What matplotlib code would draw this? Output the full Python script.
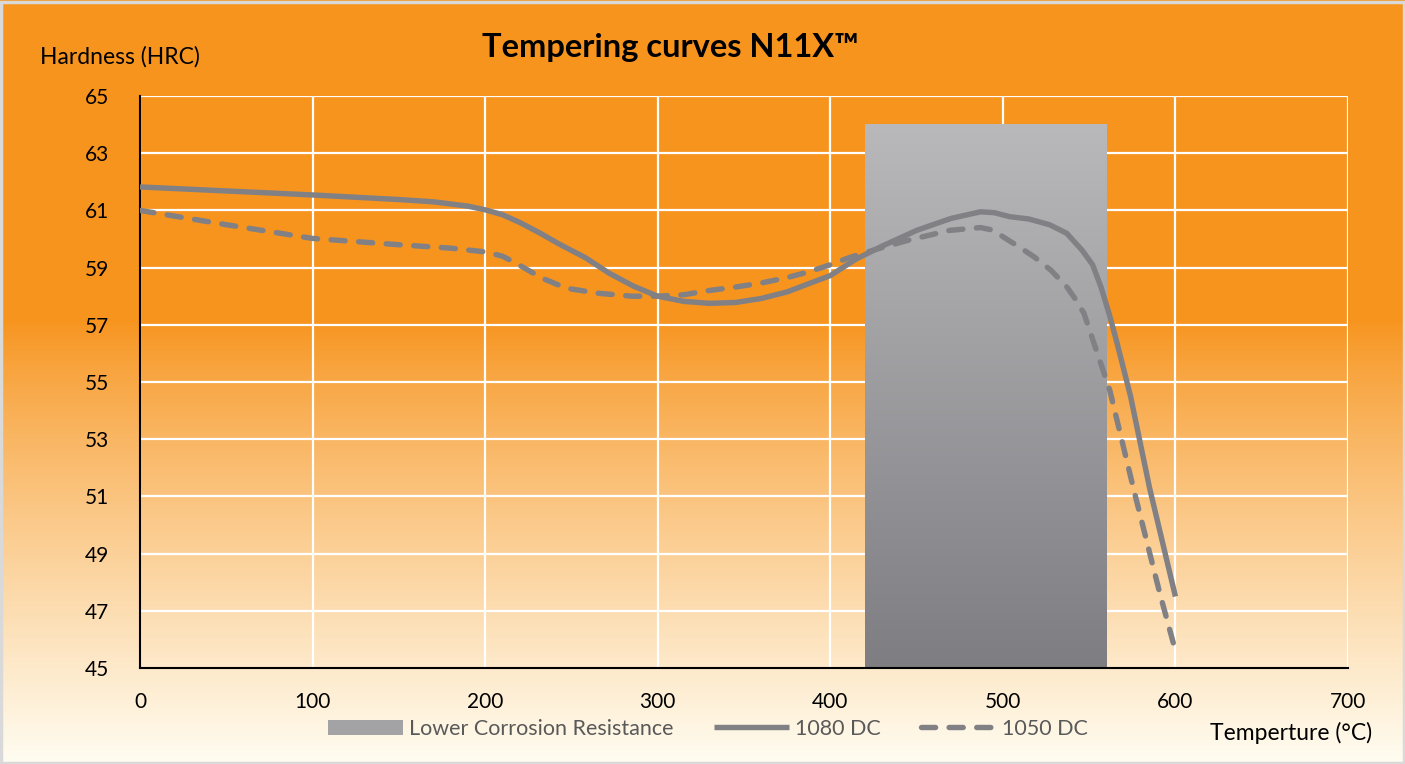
import numpy as np
import matplotlib
matplotlib.use("Agg")
import matplotlib.pyplot as plt
from matplotlib.patches import Rectangle

plt.rcParams['font.family'] = ['Lato', 'DejaVu Sans']

# temperature (C) / hardness (HRC)
temp_1080 = [0, 50, 100, 150, 170, 190, 200, 210, 220, 232, 243, 258, 272, 286, 300,
             315, 330, 345, 360, 375, 388, 400, 415, 430, 450, 470, 487, 495, 504,
             515, 527, 537, 546, 552, 557, 562, 566, 574, 585, 600]
hrc_1080 = [61.82, 61.68, 61.54, 61.38, 61.3, 61.15, 61.02, 60.85, 60.58, 60.2, 59.82,
            59.35, 58.8, 58.35, 58.0, 57.82, 57.75, 57.78, 57.92, 58.15, 58.45, 58.72,
            59.3, 59.75, 60.3, 60.72, 60.95, 60.92, 60.78, 60.7, 60.5, 60.2, 59.6,
            59.1, 58.3, 57.3, 56.4, 54.5, 51.3, 47.5]

temp_1050 = [0, 50, 100, 150, 180, 200, 210, 218, 233, 247, 266, 285, 300, 315, 330,
             345, 359, 375, 388, 400, 411, 430, 446, 469, 487, 495, 500, 510, 518,
             528, 537, 542, 547, 552, 557, 562, 576, 591, 600]
hrc_1050 = [61.0, 60.5, 60.02, 59.8, 59.68, 59.55, 59.4, 59.15, 58.63, 58.28, 58.1,
            58.0, 58.0, 58.05, 58.2, 58.32, 58.45, 58.65, 58.86, 59.1, 59.35, 59.7,
            59.97, 60.3, 60.4, 60.3, 60.08, 59.7, 59.38, 58.9, 58.33, 57.9, 57.4,
            56.5, 55.6, 54.7, 51.2, 47.6, 45.6]

# lower corrosion resistance band
band_temp = [420, 560]
band_hrc = [45, 64]

xticks = [0, 100, 200, 300, 400, 500, 600, 700]
yticks = [45, 47, 49, 51, 53, 55, 57, 59, 61, 63, 65]

line_col = '#818085'
orange = np.array([247, 148, 30]) / 255
cream = np.array([255, 253, 242]) / 255

fig = plt.figure(figsize=(14.05, 7.64), dpi=100)

# background gradient over the whole figure
bg = fig.add_axes([0, 0, 1, 1], zorder=-10)
h = 764
rows = np.arange(h)
frac = np.clip((rows - 320) / (h - 320), 0, 1) ** 0.85
grad = orange[None, :] * (1 - frac[:, None]) + cream[None, :] * frac[:, None]
bg.imshow(grad[:, None, :], aspect='auto', extent=[0, 1, 0, 1], origin='upper')
bg.set_xlim(0, 1)
bg.set_ylim(0, 1)
bg.axis('off')
fig.patches.append(Rectangle((0.001, 0.001), 0.998, 0.996, transform=fig.transFigure,
                             fill=False, edgecolor='#d9d9d9', lw=2.5))

ax = fig.add_axes([140 / 1405, 96 / 764, 1208 / 1405, 572 / 764])
ax.patch.set_alpha(0)
ax.set_xlim(0, 700)
ax.set_ylim(45, 65)
ax.set_xticks(xticks)
ax.set_yticks(yticks)
ax.grid(True, color='white', lw=1.6, zorder=0)
ax.tick_params(length=0, labelsize=15, colors='black')
ax.tick_params(axis='x', pad=17)
ax.tick_params(axis='y', pad=22)
for s in ['top', 'right']:
    ax.spines[s].set_visible(False)
for s in ['left', 'bottom']:
    ax.spines[s].set_color('black')
    ax.spines[s].set_linewidth(1.5)

# gray gradient band
band = np.linspace(0, 1, 256)[:, None]
top_c = np.array([185, 185, 187]) / 255
bot_c = np.array([126, 125, 130]) / 255
band_img = top_c[None, None, :] * (1 - band[:, :, None]) + bot_c[None, None, :] * band[:, :, None]
ax.imshow(band_img, aspect='auto', origin='upper', zorder=2,
          extent=[band_temp[0], band_temp[1], band_hrc[0], band_hrc[1]])
ax.set_xlim(0, 700)
ax.set_ylim(45, 65)
band_handle = Rectangle((0, 0), 1, 1, facecolor='#a3a3a6', edgecolor='none')

l1, = ax.plot(temp_1080, hrc_1080, color=line_col, lw=3.9, solid_capstyle='butt',
              solid_joinstyle='round', zorder=3, label='1080 DC')
l2, = ax.plot(temp_1050, hrc_1050, color=line_col, lw=3.9, zorder=3, label='1050 DC',
              dashes=(2.6, 2.5), dash_capstyle='round')

fig.text(40 / 1405, 1 - 57 / 764, 'Hardness (HRC)', fontsize=16.5, va='center', ha='left')
fig.text(1372 / 1405, 1 - 733 / 764, 'Temperture (°C)', fontsize=16.5, va='center', ha='right')
fig.text(670 / 1405, 1 - 47 / 764, 'Tempering curves N11X™', fontsize=23.5, fontweight='bold',
         va='center', ha='center')

leg = fig.legend([band_handle, l1, l2], ['Lower Corrosion Resistance', '1080 DC', '1050 DC'],
                 loc='center', bbox_to_anchor=(708 / 1405, 1 - 729 / 764), ncol=3,
                 frameon=False, fontsize=15.5, handlelength=3.5, handleheight=0.7,
                 columnspacing=1.9, handletextpad=0.25)
for t in leg.get_texts():
    t.set_color('#595959')

fig.savefig('out.png', dpi=100)
